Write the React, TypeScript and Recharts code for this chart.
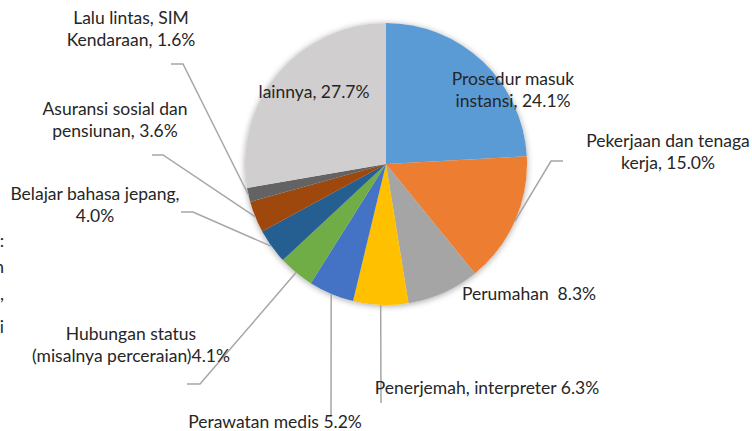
import React from 'react';
import { PieChart, Pie, Cell } from 'recharts';

const categories = [
  'Prosedur masuk instansi',
  'Pekerjaan dan tenaga kerja',
  'Perumahan',
  'Penerjemah, interpreter',
  'Perawatan medis',
  'Hubungan status (misalnya perceraian)',
  'Belajar bahasa jepang',
  'Asuransi sosial dan pensiunan',
  'Lalu lintas, SIM Kendaraan',
  'lainnya',
];
const values = [24.1, 15.0, 8.3, 6.3, 5.2, 4.1, 4.0, 3.6, 1.6, 27.7];
const labelTexts = [
  ['Prosedur masuk', 'instansi, 24.1%'],
  ['Pekerjaan dan tenaga', 'kerja, 15.0%'],
  ['Perumahan  8.3%'],
  ['Penerjemah, interpreter 6.3%'],
  ['Perawatan medis 5.2%'],
  ['Hubungan status', '(misalnya perceraian)4.1%'],
  ['Belajar bahasa jepang,', '4.0%'],
  ['Asuransi sosial dan', 'pensiunan, 3.6%'],
  ['Lalu lintas, SIM', 'Kendaraan, 1.6%'],
  ['lainnya, 27.7%'],
];
const edgeFragments = [':', 'n', ',', 'i'];

const colors = ['#5B9BD5', '#ED7D31', '#A5A5A5', '#FFC000', '#4472C4', '#70AD47', '#255E91', '#9E480E', '#636363', '#D0CECE'];

// label placement (manual, like Excel): text center x, first baseline y, optional leader elbow/end
const labelLayout: { x: number; y: number; elbow?: [number, number]; end?: [number, number] }[] = [
  { x: 513, y: 85 },
  { x: 668, y: 147, elbow: [551, 161], end: [563, 161] },
  { x: 529, y: 300 },
  { x: 487, y: 394, elbow: [381, 403], end: [381, 403] },
  { x: 275, y: 428, elbow: [331, 416], end: [331, 416] },
  { x: 131, y: 340, elbow: [200, 384], end: [187, 384] },
  { x: 95, y: 200, elbow: [193, 212], end: [181, 212] },
  { x: 115, y: 115, elbow: [163, 155], end: [152, 155] },
  { x: 131, y: 24, elbow: [183, 64], end: [171, 64] },
  { x: 314, y: 98 },
];
const fragmentLayout = [
  { x: 4, y: 247 },
  { x: 4, y: 273 },
  { x: 4, y: 300 },
  { x: 4, y: 333 },
];

const data = categories.map((name, i) => ({ name, value: values[i] }));

const FONT = 'Lato, "Noto Sans", sans-serif';
const FONT_SIZE = 17.5;
const LINE_H = 21.5;
const RAD = Math.PI / 180;

const renderLabel = (props: any) => {
  const { cx, cy, midAngle, outerRadius, index } = props;
  const lay = labelLayout[index];
  const lines = labelTexts[index];
  const sx = cx + outerRadius * Math.cos(-midAngle * RAD);
  const sy = cy + outerRadius * Math.sin(-midAngle * RAD);
  return (
    <g key={`lbl-${index}`}>
      {lay.elbow && lay.end && (
        <polyline
          points={`${sx},${sy} ${lay.elbow[0]},${lay.elbow[1]} ${lay.end[0]},${lay.end[1]}`}
          fill="none"
          stroke="#A6A6A6"
          strokeWidth={1.5}
        />
      )}
      {lines.map((t, li) => (
        <text
          key={li}
          x={lay.x}
          y={lay.y + li * LINE_H}
          textAnchor="middle"
          fill="#262626"
          fontSize={FONT_SIZE}
          fontFamily={FONT}
          style={{ whiteSpace: 'pre' }}
        >
          {t}
        </text>
      ))}
    </g>
  );
};

export default function App() {
  return (
    <div style={{ position: 'absolute', left: 0, top: 0, width: 752, height: 431, background: '#fff' }}>
      <PieChart width={752} height={431} margin={{ top: 0, right: 0, bottom: 0, left: 0 }}>
        <Pie
          data={data}
          dataKey="value"
          cx={386}
          cy={164}
          outerRadius={141}
          startAngle={90}
          endAngle={-270}
          stroke="none"
          isAnimationActive={false}
          label={false}
          labelLine={false}
        >
          {data.map((d) => (
            <Cell key={`sh-${d.name}`} fill="#ffffff" style={{ filter: 'drop-shadow(0px 1px 3px rgba(0,0,0,0.35))' }} />
          ))}
        </Pie>
        <Pie
          data={data}
          dataKey="value"
          nameKey="name"
          cx={386}
          cy={164}
          outerRadius={141}
          startAngle={90}
          endAngle={-270}
          stroke="none"
          isAnimationActive={false}
          label={renderLabel}
          labelLine={false}
        >
          {data.map((d, i) => (
            <Cell key={d.name} fill={colors[i]} />
          ))}
        </Pie>
      </PieChart>
      <svg width={752} height={431} style={{ position: 'absolute', left: 0, top: 0, pointerEvents: 'none' }}>
        {edgeFragments.map((f, i) => (
          <text key={i} x={fragmentLayout[i].x} y={fragmentLayout[i].y} textAnchor="end" fill="#262626" fontSize={FONT_SIZE} fontFamily={FONT}>
            {f}
          </text>
        ))}
      </svg>
    </div>
  );
}
